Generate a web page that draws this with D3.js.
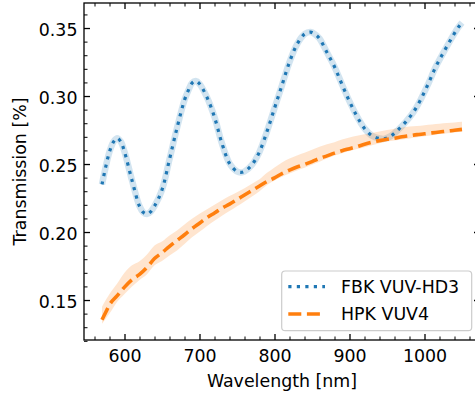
<!DOCTYPE html>
<html>
<head>
<meta charset="utf-8">
<script src="https://cdn.jsdelivr.net/npm/d3@7"></script>
<style>
  html, body { margin: 0; padding: 0; background: #fff; }
  svg { display: block; font-family: "DejaVu Sans", sans-serif; }
</style>
</head>
<body>
<svg id="chart" width="475" height="394"></svg>
<script>
// FBK VUV-HD3 transmission curve (wavelength in nm)
const fbkWavelength = [570, 575, 580, 585, 590, 595, 600, 610, 620, 625, 630, 635, 640, 650, 660, 670, 680, 685, 690, 695,
  700, 710, 720, 730, 740, 750, 755, 760, 770, 780, 790, 800, 810, 820, 830, 840, 848, 855, 860, 870,
  880, 890, 900, 910, 920, 930, 940, 946, 955, 965, 975, 985, 995, 1005, 1015, 1025, 1035, 1045, 1050];
const fbkTransmission = [0.235, 0.248, 0.259, 0.266, 0.269, 0.2665, 0.259, 0.238, 0.219, 0.2145, 0.2132, 0.215, 0.219, 0.231, 0.2535, 0.2765, 0.297, 0.304, 0.3095, 0.311,
  0.309, 0.299, 0.2845, 0.265, 0.2505, 0.2445, 0.2438, 0.2445, 0.2495, 0.259, 0.274, 0.291, 0.308, 0.325, 0.338, 0.3455, 0.347, 0.345, 0.3423, 0.332,
  0.3215, 0.3085, 0.296, 0.285, 0.2762, 0.2708, 0.2688, 0.2685, 0.2705, 0.2752, 0.281, 0.288, 0.2975, 0.309, 0.3215, 0.3317, 0.3415, 0.3505, 0.354];

// HPK VUV4 transmission: mean curve with lower / upper envelope
const hpkWavelength = [570, 575, 580, 590, 600, 610, 620, 630, 640, 650, 660, 670, 680, 690, 700, 710, 720, 730, 740, 750,
  760, 770, 780, 790, 800, 810, 820, 830, 840, 850, 860, 870, 880, 890, 900, 910, 920, 930, 940, 950,
  960, 970, 980, 990, 1000, 1010, 1020, 1030, 1040, 1050];
const hpkTransmission = [0.1355, 0.141, 0.1465, 0.153, 0.1595, 0.165, 0.1688, 0.174, 0.1805, 0.1848, 0.1895, 0.1938, 0.198, 0.2025, 0.2065, 0.2105, 0.214, 0.2175, 0.2205, 0.2238,
  0.2272, 0.2305, 0.2338, 0.2372, 0.2398, 0.243, 0.2455, 0.2478, 0.2497, 0.2518, 0.2541, 0.256, 0.258, 0.2598, 0.2613, 0.2628, 0.2645, 0.266, 0.2672, 0.2682,
  0.269, 0.27, 0.2708, 0.2716, 0.2722, 0.2729, 0.2735, 0.2742, 0.2748, 0.2755];
const hpkLower = [0.1325, 0.1362, 0.140, 0.1485, 0.1545, 0.160, 0.1648, 0.169, 0.1755, 0.1787, 0.1828, 0.1865, 0.1912, 0.1962, 0.2002, 0.2045, 0.2082, 0.212, 0.2155, 0.219,
  0.2225, 0.2262, 0.230, 0.2345, 0.2378, 0.2406, 0.243, 0.2453, 0.2473, 0.2495, 0.2517, 0.254, 0.2562, 0.258, 0.2596, 0.261, 0.2624, 0.2638, 0.2652, 0.2665,
  0.2673, 0.268, 0.2688, 0.2697, 0.2705, 0.2712, 0.272, 0.2726, 0.2732, 0.2737];
const hpkUpper = [0.145, 0.150, 0.1545, 0.162, 0.170, 0.1755, 0.1785, 0.1835, 0.190, 0.193, 0.1975, 0.2012, 0.2055, 0.2098, 0.2135, 0.2168, 0.2201, 0.2234, 0.2265, 0.2293,
  0.2321, 0.2355, 0.2388, 0.2435, 0.2475, 0.2512, 0.254, 0.2562, 0.2582, 0.2605, 0.2627, 0.2645, 0.2661, 0.268, 0.2695, 0.2708, 0.2718, 0.2728, 0.274, 0.275,
  0.276, 0.2768, 0.2775, 0.278, 0.2786, 0.2791, 0.2796, 0.2801, 0.2806, 0.2811];

const xMajorTicks = [600, 700, 800, 900, 1000];
const yMajorTicks = [0.15, 0.20, 0.25, 0.30, 0.35];
const seriesNames = ["FBK VUV-HD3", "HPK VUV4"];
const seriesColors = ["#1f77b4", "#ff7f0e"];

const svg = d3.select("#chart");
const plot = { left: 84, top: 3, right: 480, bottom: 340 };
const fontSize = 17.4;

const x = d3.scaleLinear().domain([546, 1074]).range([plot.left, plot.right]);
const y = d3.scaleLinear().domain([0.1206, 0.3684]).range([plot.bottom, plot.top]);

const xMinorTicks = d3.range(560, 1074, 20).filter(v => v % 100 !== 0);
const yMinorTicks = d3.range(12, 37, 1).map(v => v / 100).filter(v => Math.round(v * 100) % 5 !== 0);

svg.append("defs").append("clipPath").attr("id", "plot-clip")
  .append("rect")
  .attr("x", plot.left).attr("y", plot.top)
  .attr("width", plot.right - plot.left).attr("height", plot.bottom - plot.top);

const fbk = fbkWavelength.map((w, i) => ({ w, t: fbkTransmission[i] }));
const hpk = hpkWavelength.map((w, i) => ({ w, t: hpkTransmission[i], lo: hpkLower[i], hi: hpkUpper[i] }));

const g = svg.append("g").attr("clip-path", "url(#plot-clip)");

// translucent halo around the FBK curve
const fbkLine = d3.line().x(d => x(d.w)).y(d => y(d.t)).curve(d3.curveCatmullRom.alpha(0.5));
g.append("path").datum(fbk)
  .attr("d", fbkLine)
  .attr("fill", "none")
  .attr("stroke", seriesColors[0])
  .attr("stroke-opacity", 0.2)
  .attr("stroke-width", 6.5);

// HPK envelope
const hpkArea = d3.area().x(d => x(d.w)).y0(d => y(d.lo)).y1(d => y(d.hi)).curve(d3.curveMonotoneX);
g.append("path").datum(hpk)
  .attr("d", hpkArea)
  .attr("fill", seriesColors[1])
  .attr("fill-opacity", 0.2);

// FBK dotted curve
g.append("path").datum(fbk)
  .attr("d", fbkLine)
  .attr("fill", "none")
  .attr("stroke", seriesColors[0])
  .attr("stroke-width", 3.2)
  .attr("stroke-dasharray", "3.2,5.3");

// HPK dashed curve
const hpkLine = d3.line().x(d => x(d.w)).y(d => y(d.t)).curve(d3.curveMonotoneX);
g.append("path").datum(hpk)
  .attr("d", hpkLine)
  .attr("fill", "none")
  .attr("stroke", seriesColors[1])
  .attr("stroke-width", 3.6)
  .attr("stroke-dasharray", "13,5.6");

// axes: inward ticks on all four sides
function styleAxis(sel, width) {
  sel.select(".domain").remove();
  sel.selectAll(".tick line").attr("stroke", "#000").attr("stroke-width", width);
  sel.selectAll("text").attr("font-size", fontSize).attr("fill", "#000")
    .attr("font-family", "DejaVu Sans, sans-serif");
}

const bottomMajor = svg.append("g").attr("transform", `translate(0,${plot.bottom})`)
  .call(d3.axisBottom(x).tickValues(xMajorTicks).tickFormat(d3.format("d")).tickSize(-6).tickPadding(9.4));
styleAxis(bottomMajor, 1.3);
svg.append("g").attr("transform", `translate(0,${plot.bottom})`)
  .call(d3.axisBottom(x).tickValues(xMinorTicks).tickFormat("").tickSize(-3.5))
  .call(s => styleAxis(s, 1));

svg.append("g").attr("transform", `translate(0,${plot.top})`)
  .call(d3.axisTop(x).tickValues(xMajorTicks).tickFormat("").tickSize(-6))
  .call(s => styleAxis(s, 1.3));
svg.append("g").attr("transform", `translate(0,${plot.top})`)
  .call(d3.axisTop(x).tickValues(xMinorTicks).tickFormat("").tickSize(-3.5))
  .call(s => styleAxis(s, 1));

const leftMajor = svg.append("g").attr("transform", `translate(${plot.left},0)`)
  .call(d3.axisLeft(y).tickValues(yMajorTicks).tickFormat(d3.format(".2f")).tickSize(-6).tickPadding(6.5));
styleAxis(leftMajor, 1.3);
leftMajor.selectAll("text").attr("dy", "0.43em");
svg.append("g").attr("transform", `translate(${plot.left},0)`)
  .call(d3.axisLeft(y).tickValues(yMinorTicks).tickFormat("").tickSize(-3.5))
  .call(s => styleAxis(s, 1));

svg.append("g").attr("transform", `translate(${plot.right},0)`)
  .call(d3.axisRight(y).tickValues(yMajorTicks).tickFormat("").tickSize(-6))
  .call(s => styleAxis(s, 1.3));
svg.append("g").attr("transform", `translate(${plot.right},0)`)
  .call(d3.axisRight(y).tickValues(yMinorTicks).tickFormat("").tickSize(-3.5))
  .call(s => styleAxis(s, 1));

// frame
svg.append("rect")
  .attr("x", plot.left).attr("y", plot.top)
  .attr("width", plot.right - plot.left).attr("height", plot.bottom - plot.top)
  .attr("fill", "none").attr("stroke", "#000").attr("stroke-width", 1.3);

// axis titles
svg.append("text")
  .attr("x", (plot.left + plot.right) / 2).attr("y", 386.5)
  .attr("text-anchor", "middle").attr("font-size", fontSize)
  .text("Wavelength [nm]");
svg.append("text")
  .attr("transform", `translate(25.5,${(plot.top + plot.bottom) / 2}) rotate(-90)`)
  .attr("text-anchor", "middle").attr("font-size", fontSize)
  .text("Transmission [%]");

// legend
const legend = svg.append("g");
legend.append("rect")
  .attr("x", 281.7).attr("y", 271).attr("width", 190).attr("height", 59.7)
  .attr("rx", 3.5)
  .attr("fill", "#fff").attr("fill-opacity", 0.8)
  .attr("stroke", "#cccccc").attr("stroke-width", 1.2);
const legendRows = [286.7, 314];
const legendDash = ["3.2,5.3", "13,5.6"];
const legendWidth = [3.2, 3.6];
seriesNames.forEach((name, i) => {
  legend.append("line")
    .attr("x1", 288.3).attr("x2", 325)
    .attr("y1", legendRows[i]).attr("y2", legendRows[i])
    .attr("stroke", seriesColors[i]).attr("stroke-width", legendWidth[i])
    .attr("stroke-dasharray", legendDash[i]);
  legend.append("text")
    .attr("x", 341).attr("y", legendRows[i]).attr("dy", "0.36em")
    .attr("font-size", fontSize)
    .text(name);
});
</script>
</body>
</html>
